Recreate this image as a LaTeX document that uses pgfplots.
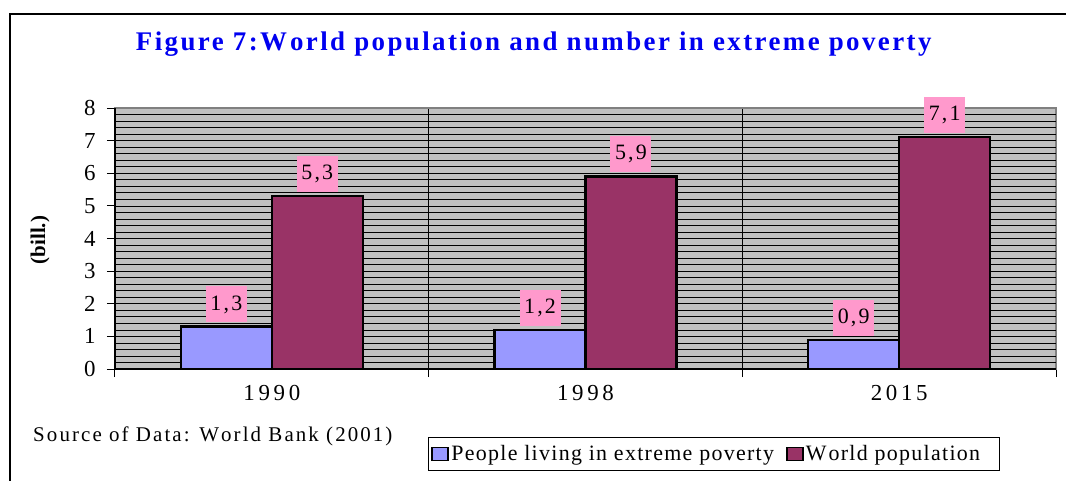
\documentclass[border=0pt]{standalone}
\usepackage{pgfplots}
\pgfplotsset{compat=1.18}
\usepackage{fontspec}
\setmainfont{Liberation Serif}
\newfontfamily\spaced[LetterSpace=10]{Liberation Serif}
\newfontfamily\wide[LetterSpace=16]{Liberation Serif}
\newfontfamily\legfont[LetterSpace=6]{Liberation Serif}
\newfontfamily\titlefont[LetterSpace=9]{Liberation Serif}
\definecolor{bgc}{HTML}{C0C0C0}
\definecolor{pblue}{HTML}{9999FF}
\definecolor{ppurple}{HTML}{993366}
\definecolor{ppink}{HTML}{FF99CC}
\definecolor{tblue}{HTML}{0000F0}
\begin{document}
\begin{tikzpicture}
\useasboundingbox (-115bp,-112bp) rectangle (951bp,369bp);
\begin{axis}[
  scale only axis, width=941bp, height=261bp,
  xmin=0.5, xmax=3.5, ymin=0, ymax=8,
  clip=false,
  ybar=0pt, bar width=0.29,
  axis background/.style={fill=bgc},
  axis line style={draw=gray, line width=1.2bp},
  xtick pos=bottom, ytick pos=left,
  ytick={0,1,...,8},
  xtick={0.5,1.5,2.5,3.5}, xticklabels={},
  extra x ticks={1,2,3}, extra x tick labels={1990,1998,2015},
  extra x tick style={major tick length=0pt, grid=none},
  extra y ticks={0.2,0.4,...,7.8}, extra y tick labels={},
  extra y tick style={major tick length=0pt, grid=major},
  xmajorgrids, ymajorgrids,
  major grid style={black, line width=0.7bp},
  tick align=outside, major tick length=8bp,
  tick style={black, line width=1bp},
  yticklabel style={font=\spaced\fontsize{23}{26}\selectfont, xshift=-8bp},
  xticklabel style={font=\wide\fontsize{23}{26}\selectfont, yshift=-13bp},
  /pgf/number format/assume math mode=true,
  /pgf/number format/use comma,
  /pgf/number format/fixed,
  /pgf/number format/precision=1,
  ylabel={(bill.)},
  ylabel style={at={(axis description cs:-0.0797,0.494)}, anchor=center, font=\bfseries\fontsize{21}{24}\selectfont},
  title={Figure 7:W\kern3bp orld population and number in extreme poverty},
  title style={at={(axis description cs:0.445,1.22)}, anchor=center, text=tblue, font=\titlefont\bfseries\fontsize{27}{32}\selectfont},
  nodes near coords={\pgfmathprintnumber{\pgfplotspointmeta}},
  every node near coord/.append style={fill=ppink, text=black, minimum width=41bp, minimum height=36bp, inner sep=0pt, anchor=south, yshift=3bp, font=\spaced\fontsize{22}{24}\selectfont},
  legend columns=2,
  legend style={at={(axis description cs:0.3326,-0.326)}, anchor=west, draw=black, line width=1bp, fill=white, font=\legfont\fontsize{22}{26}\selectfont, inner xsep=3bp, inner ysep=6bp, /tikz/every even column/.append style={column sep=10bp}},
]
\addplot[fill=pblue, draw=black, line width=2.2bp,
  legend image code/.code={\draw[fill=pblue, draw=black, line width=1.8bp] (0bp,-6.5bp) rectangle (16bp,6.5bp);}]
  coordinates {(1,1.3) (2,1.2) (3,0.9)};
\addlegendentry{People living in extreme poverty}
\addplot[fill=ppurple, draw=black, line width=2.2bp,
  legend image code/.code={\draw[fill=ppurple, draw=black, line width=1.8bp] (0bp,-6.5bp) rectangle (16bp,6.5bp);}]
  coordinates {(1,5.3) (2,5.9) (3,7.1)};
\addlegendentry{W\kern2bp orld population\rule{14bp}{0pt}}
\draw[black, line width=1.5bp] (rel axis cs:0,1) -- (rel axis cs:0,0) -- (rel axis cs:1,0);
\node[anchor=west, font=\spaced\fontsize{21}{24}\selectfont, inner sep=0pt] at (axis description cs:-0.0871,-0.26) {Source of Data: W\kern2bp orld Bank (2001)};
\end{axis}
\draw[black, line width=1.5bp] (-105bp,-112bp) -- (-105bp,355bp) -- (951bp,355bp);
\end{tikzpicture}
\end{document}
